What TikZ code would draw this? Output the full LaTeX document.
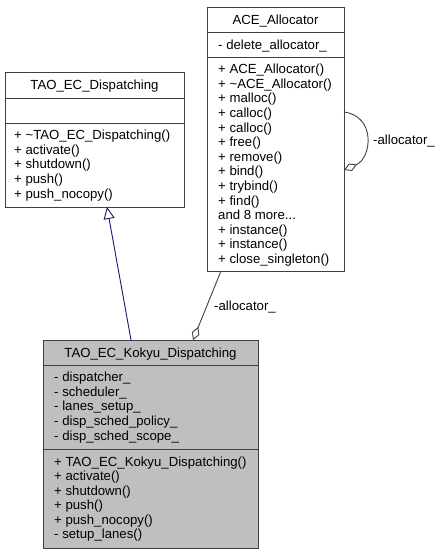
\documentclass[tikz,border=0pt]{standalone}
\usepackage{fontspec}
\setmainfont{Liberation Sans}
\usetikzlibrary{arrows.meta,calc}
\definecolor{edgegray}{HTML}{404040}
\definecolor{boxline}{HTML}{404040}
\definecolor{inhblue}{HTML}{191970}
\definecolor{kfill}{HTML}{BFBFBF}
\newcommand{\andmore}{and 8 more...}
\begin{document}
\begin{tikzpicture}[x=1pt,y=-1pt,
  font=\fontsize{13.2pt}{14.6pt}\selectfont,
  classbox/.style={draw=boxline,line width=1pt,inner sep=0pt,outer sep=0pt},
  sepline/.style={draw=boxline,line width=1pt},
  txt/.style={inner sep=0pt,text height=9.5pt,text depth=0pt,anchor=west},
  ttl/.style={inner sep=0pt,text height=9.5pt,text depth=0pt,anchor=center},
  lbl/.style={inner sep=0pt,text height=9.5pt,text depth=0pt,anchor=west},
  inh/.style={draw=inhblue,line width=0.9pt,-{Triangle[open,length=12pt,width=11pt,line width=0.9pt]}},
  agg/.style={draw=edgegray,line width=0.9pt,-{Diamond[open,length=14pt,width=8pt,line width=0.9pt]}}]
\useasboundingbox (0,0) rectangle (439,555);
\fill[white] (0,0) rectangle (439,555);

% TAO_EC_Dispatching
\node[classbox,fill=white,minimum width=179pt,minimum height=135pt] (D) at (94.5,139.5) {};
\draw[sepline] ($(D.north west)+(0,26)$) -- ($(D.north east)+(0,26)$);
\draw[sepline] ($(D.north west)+(0,51)$) -- ($(D.north east)+(0,51)$);
\node[ttl] (Dt) at (94.5,85) {TAO\_EC\_Dispatching};
\foreach \s [count=\i] in {+ \textasciitilde TAO\_EC\_Dispatching(),+ activate(),+ shutdown(),+ push(),+ push\_nocopy()}
  \node[txt] (Dm\i) at (14,{135+(\i-1)*14.6}) {\s};

% ACE_Allocator
\node[classbox,fill=white,minimum width=137pt,minimum height=264pt] (A) at (275.5,139) {};
\draw[sepline] ($(A.north west)+(0,25)$) -- ($(A.north east)+(0,25)$);
\draw[sepline] ($(A.north west)+(0,50)$) -- ($(A.north east)+(0,50)$);
\node[ttl] (At) at (275.5,19.5) {ACE\_Allocator};
\node[txt] (Aa1) at (218,44.5) {- delete\_allocator\_};
\foreach \s [count=\i] in {+ ACE\_Allocator(),+ \textasciitilde ACE\_Allocator(),+ malloc(),+ calloc(),+ calloc(),+ free(),+ remove(),+ bind(),+ trybind(),+ find(),\andmore,+ instance(),+ instance(),+ close\_singleton()}
  \node[txt] (Am\i) at (218,{69+(\i-1)*14.6}) {\s};

% TAO_EC_Kokyu_Dispatching
\node[classbox,fill=kfill,minimum width=215pt,minimum height=208pt] (K) at (150.5,444) {};
\draw[sepline] ($(K.north west)+(0,25)$) -- ($(K.north east)+(0,25)$);
\draw[sepline] ($(K.north west)+(0,109)$) -- ($(K.north east)+(0,109)$);
\node[ttl] (Kt) at (150.5,352.5) {TAO\_EC\_Kokyu\_Dispatching};
\foreach \s [count=\i] in {- dispatcher\_,- scheduler\_,- lanes\_setup\_,- disp\_sched\_policy\_,- disp\_sched\_scope\_}
  \node[txt] (Ka\i) at (54,{377+(\i-1)*14.6}) {\s};
\foreach \s [count=\i] in {+ TAO\_EC\_Kokyu\_Dispatching(),+ activate(),+ shutdown(),+ push(),+ push\_nocopy(),- setup\_lanes()}
  \node[txt] (Km\i) at (54,{461.5+(\i-1)*14.5}) {\s};

% connectors
\draw[inh] ([xshift=-19.5pt]K.north) -- ([xshift=12.5pt]D.south);
\draw[agg] ([xshift=-54.5pt]A.south) -- ([xshift=42.5pt]K.north);
\node[lbl] (L2) at (214,306) {-allocator\_};
\draw[agg] ([yshift=27pt]A.east) .. controls +(32,4) and +(28,-12) .. ([yshift=-31pt]A.east);
\node[lbl] (L1) at (373,140) {-allocator\_};
\end{tikzpicture}
\end{document}
